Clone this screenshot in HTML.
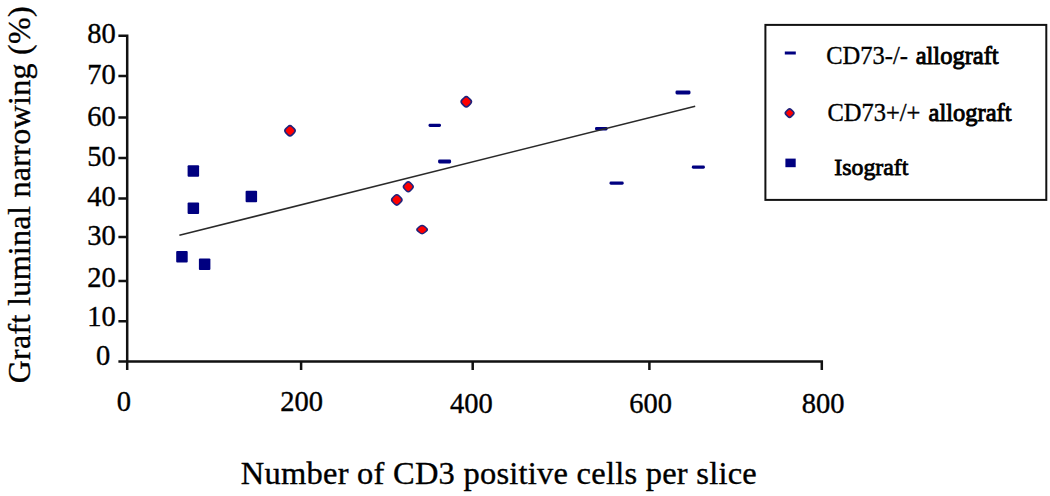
<!DOCTYPE html>
<html><head><meta charset="utf-8">
<style>
html,body{margin:0;padding:0;background:#fff;}
body{width:1050px;height:496px;overflow:hidden;}
svg{display:block;}
text{font-family:"Liberation Serif",serif;fill:#000;stroke:#000;stroke-width:0.35px;}
</style></head>
<body>
<svg width="1050" height="496" viewBox="0 0 1050 496">
<rect width="1050" height="496" fill="#fff"/>
<!-- axes -->
<g stroke="#111" stroke-width="2.5" fill="none" stroke-linecap="butt">
<path d="M118.4 35.7 H127.2 V370"/>
<path d="M118.4 361.5 H821.8 V370"/>
<path d="M118.4 75.9 H127.2 M118.4 117.5 H127.2 M118.4 157.9 H127.2 M118.4 198.5 H127.2 M118.4 236.9 H127.2 M118.4 280.9 H127.2 M118.4 321.3 H127.2"/>
<path d="M301.1 361.5 V370 M472.7 361.5 V370 M649.4 361.5 V370"/>
</g>
<!-- y labels -->
<g font-size="28.5" text-anchor="end">
<text x="115.8" y="43.3">80</text>
<text x="115.8" y="83.9">70</text>
<text x="115.8" y="125.8">60</text>
<text x="115.8" y="165.9">50</text>
<text x="115.8" y="206.3">40</text>
<text x="115.8" y="245.1">30</text>
<text x="115.8" y="287.1">20</text>
<text x="115.8" y="326">10</text>
<text x="110.3" y="364.5">0</text>
</g>
<!-- x labels -->
<g font-size="28.5" text-anchor="middle">
<text x="123.8" y="411">0</text>
<text x="301.6" y="410.5">200</text>
<text x="471.3" y="412.6">400</text>
<text x="650.5" y="412.6">600</text>
<text x="823.2" y="412.6">800</text>
</g>
<!-- titles -->
<text x="240.8" y="483.5" font-size="32.5" textLength="516" lengthAdjust="spacing">Number of CD3 positive cells per slice</text>
<text transform="translate(30.4 383.3) rotate(-90)" font-size="32" textLength="377" lengthAdjust="spacing">Graft luminal narrowing (%)</text>
<!-- isograft squares -->
<g fill="#000080">
<rect rx="1" x="187.6" y="165.3" width="11.5" height="11.5"/>
<rect rx="1" x="187.6" y="202.6" width="11.5" height="11.5"/>
<rect rx="1" x="245.6" y="190.8" width="11.5" height="11.5"/>
<rect rx="1" x="176.2" y="251" width="11.5" height="11.5"/>
<rect rx="1" x="198.9" y="258.6" width="11.5" height="11.5"/>
</g>
<!-- diamonds -->
<g fill="#ff0000" stroke="#22227a" stroke-width="1.6">
<rect x="-4.40" y="-4.40" width="8.80" height="8.80" rx="3" transform="translate(290 130.8) scale(1 1) rotate(45)"/>
<rect x="-4.40" y="-4.40" width="8.80" height="8.80" rx="3" transform="translate(466.3 101.8) scale(1 1) rotate(45)"/>
<rect x="-4.40" y="-4.40" width="8.80" height="8.80" rx="3" transform="translate(408.3 186.8) scale(0.95 0.95) rotate(45)"/>
<rect x="-4.40" y="-4.40" width="8.80" height="8.80" rx="3" transform="translate(396.8 199.9) scale(1 1) rotate(45)"/>
<rect x="-4.40" y="-4.40" width="8.80" height="8.80" rx="3" transform="translate(422.1 229.6) scale(1 0.8) rotate(45)"/>
</g>
<!-- dashes -->
<g fill="#000080" rx="1.5">
<rect rx="1.4" x="428.5" y="123.8" width="12.5" height="3.2"/>
<rect rx="1.4" x="438.1" y="159.6" width="13" height="3.8"/>
<rect rx="1.4" x="675.5" y="90.6" width="15" height="3.8"/>
<rect rx="1.4" x="595" y="127" width="12.6" height="3.4"/>
<rect rx="1.4" x="609.5" y="181.5" width="14.2" height="3.2"/>
<rect rx="1.4" x="691.8" y="165.5" width="13.1" height="3.2"/>
</g>
<!-- regression line -->
<path d="M179.4 235.3 L695.2 106.2" stroke="#2a2a2a" stroke-width="1.5"/>
<!-- legend -->
<rect x="765.4" y="24.9" width="280.9" height="175" fill="none" stroke="#111" stroke-width="2"/>
<rect x="784.8" y="51.5" width="11" height="3" fill="#000080"/>
<rect x="-3.6" y="-3.6" width="7.2" height="7.2" rx="2.2" transform="translate(789.6 113.1) rotate(45)" fill="#ff0000" stroke="#22227a" stroke-width="1.6"/>
<rect x="785.4" y="158.6" width="10.3" height="8.6" fill="#000080"/>
<g font-size="24.5">
<text x="826.2" y="63.8">CD73-/- <tspan x="915.7" style="stroke-width:0.9px">allograft</tspan></text>
<text x="827.4" y="121.4">CD73+/+ <tspan x="928.6" style="stroke-width:0.9px">allograft</tspan></text>
<text x="834.3" y="175" style="stroke-width:0.8px;font-size:23.8px">Isograft</text>
</g>
</svg>
</body></html>
